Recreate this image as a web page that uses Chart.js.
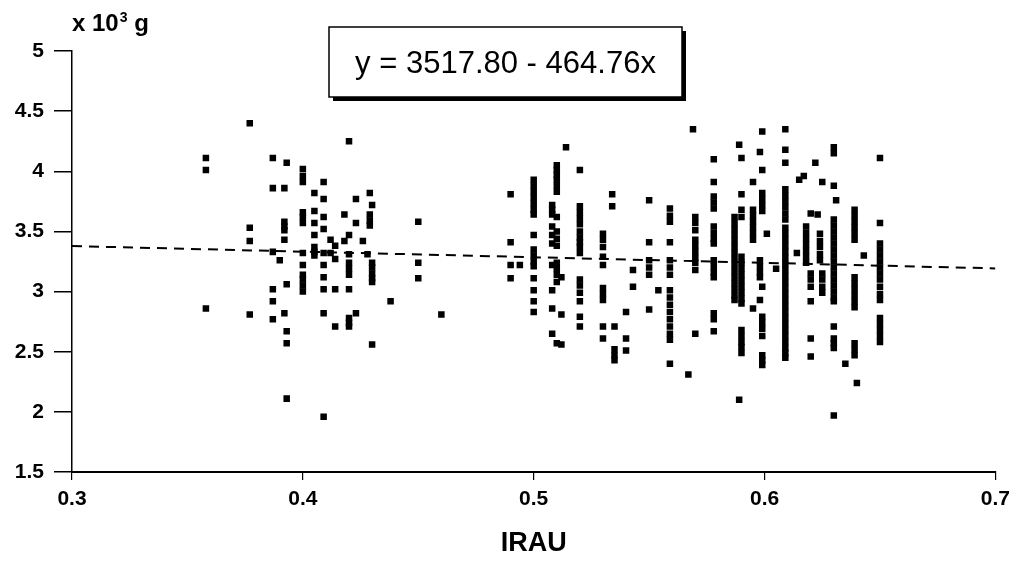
<!DOCTYPE html>
<html>
<head>
<meta charset="utf-8">
<script src="https://cdn.jsdelivr.net/npm/chart.js@4.4.1/dist/chart.umd.min.js"></script>
<style>
  html, body { margin: 0; padding: 0; background: #fff; }
  #wrap { position: relative; width: 1017px; height: 562px; }
</style>
</head>
<body>
<div id="wrap"><canvas id="c" width="1017" height="562"></canvas></div>
<script>
// ---------- DATA (IRAU vs birth weight, x 10^3 g) ----------
// Each column: one IRAU value, list of weights.
const group1Irau = [0.358, 0.377, 0.387, 0.390, 0.392, 0.393, 0.400, 0.405, 0.409, 0.412, 0.414, 0.418, 0.420, 0.423, 0.426, 0.428, 0.429, 0.430, 0.438, 0.450, 0.460];
const group1Weight = [
  [4.11, 4.01, 2.86],
  [4.40, 3.53, 3.42, 2.81],
  [4.11, 3.86, 3.33, 3.02, 2.92, 2.77],
  [3.26],
  [3.86, 3.58, 3.54, 3.51, 3.43, 2.82],
  [4.07, 3.06, 2.67, 2.57, 2.11],
  [4.02, 3.96, 3.91, 3.66, 3.62, 3.57, 3.32, 3.22, 3.14, 3.10, 3.05, 3.00],
  [3.82, 3.67, 3.57, 3.47, 3.37, 3.33, 3.30],
  [3.91, 3.77, 3.62, 3.52, 3.32, 3.22, 3.12, 3.02, 2.82, 1.96],
  [3.43, 3.32],
  [3.38, 3.27, 3.02, 2.71],
  [3.64, 3.42],
  [4.25, 3.47, 3.31, 3.24, 3.19, 3.14, 3.02, 2.78, 2.74, 2.71],
  [3.77, 3.57, 2.82],
  [3.42],
  [3.31],
  [3.82, 3.64, 3.59, 3.55],
  [3.72, 3.24, 3.20, 3.15, 3.11, 3.08, 2.56],
  [2.92],
  [3.58, 3.24, 3.11],
  [2.81]
];

const group2Irau = [0.490, 0.494, 0.500, 0.508, 0.510, 0.512, 0.514, 0.520, 0.530, 0.534, 0.535, 0.540, 0.543, 0.550, 0.554, 0.559, 0.567, 0.569, 0.570, 0.578];
const group2Weight = [
  [3.81, 3.41, 3.22, 3.11],
  [3.22],
  [3.93, 3.88, 3.83, 3.78, 3.73, 3.68, 3.64, 3.47, 3.35, 3.30, 3.25, 3.21, 3.11, 3.01, 2.92, 2.83],
  [3.72, 3.68, 3.64, 3.54, 3.47, 3.40, 3.22, 3.01, 2.86, 2.65],
  [4.05, 4.01, 3.97, 3.93, 3.88, 3.83, 3.62, 3.50, 3.44, 3.38, 3.24, 3.19, 3.14, 3.08, 2.57],
  [3.12, 2.81, 2.56],
  [4.20],
  [4.01, 3.71, 3.66, 3.61, 3.56, 3.50, 3.45, 3.41, 3.37, 3.32, 3.10, 3.05, 2.99, 2.92, 2.79, 2.71],
  [3.48, 3.43, 3.37, 3.29, 3.22, 3.03, 2.98, 2.93, 2.71, 2.61],
  [3.81, 3.71],
  [2.71, 2.52, 2.47, 2.43],
  [2.83, 2.61, 2.51],
  [3.18, 3.04],
  [3.76, 3.41, 3.26, 3.20, 3.14, 2.85],
  [3.01],
  [3.69, 3.63, 3.58, 3.41, 3.26, 3.20, 3.14, 3.01, 2.95, 2.89, 2.83, 2.77, 2.71, 2.65, 2.60, 2.40],
  [2.31],
  [4.35],
  [3.62, 3.57, 3.51, 3.43, 3.38, 3.33, 3.28, 3.24, 3.18, 2.65],
  [4.10, 3.91, 3.79, 3.74, 3.69, 3.54, 3.49, 3.44, 3.40, 3.26, 3.21, 3.16, 3.12, 2.82, 2.77, 2.67]
];

const group3Irau = [0.587, 0.589, 0.590, 0.595, 0.598, 0.599, 0.601, 0.605, 0.609, 0.614, 0.615, 0.617, 0.618, 0.620, 0.622, 0.623, 0.624, 0.625, 0.630, 0.631, 0.635, 0.639, 0.640, 0.643, 0.650];
const group3Weight = [
  [3.62, 3.57, 3.52, 3.47, 3.42, 3.37, 3.32, 3.27, 3.22, 3.17, 3.12, 3.07, 3.02, 2.97, 2.93],
  [4.22, 2.10],
  [4.11, 3.81, 3.68, 3.62, 3.29, 3.24, 3.19, 3.14, 3.09, 3.04, 2.99, 2.94, 2.90, 2.68, 2.63, 2.58, 2.54, 2.49],
  [3.91, 3.68, 3.63, 3.58, 3.53, 3.48, 3.43, 2.86],
  [4.16, 3.26, 3.21, 3.16, 3.12, 2.93],
  [4.33, 4.01, 3.82, 3.77, 3.72, 3.67, 3.04, 2.79, 2.74, 2.69, 2.63, 2.47, 2.43, 2.39],
  [3.48],
  [3.19],
  [4.35, 4.18, 4.07, 3.85, 3.80, 3.75, 3.70, 3.65, 3.60, 3.53, 3.48, 3.43, 3.38, 3.33, 3.28, 3.23, 3.18, 3.13, 3.08, 3.03, 2.98, 2.93, 2.88, 2.83, 2.78, 2.73, 2.68, 2.63, 2.58, 2.53, 2.49, 2.45],
  [3.32],
  [3.93],
  [3.96],
  [3.54, 3.49, 3.44, 3.39, 3.34, 3.29, 3.24],
  [3.65, 3.15, 3.10, 3.04, 2.92, 2.61, 2.46],
  [4.07],
  [3.64],
  [3.48, 3.42, 3.37, 3.31, 3.26],
  [3.91, 3.15, 3.10, 3.04, 2.99],
  [4.20, 4.15, 3.88, 3.60, 3.55, 3.50, 3.45, 3.40, 3.35, 3.30, 3.25, 3.20, 3.15, 3.10, 3.05, 3.00, 2.95, 2.92, 2.71, 2.61, 2.57, 2.53, 1.97],
  [3.76],
  [2.40],
  [3.68, 3.63, 3.58, 3.53, 3.48, 3.43, 3.12, 3.07, 3.02, 2.97, 2.92, 2.87, 2.57, 2.52, 2.47],
  [2.24],
  [3.30],
  [4.11, 3.57, 3.40, 3.35, 3.30, 3.25, 3.20, 3.15, 3.10, 3.04, 2.98, 2.93, 2.78, 2.73, 2.68, 2.63, 2.58]
];

// Regression (grams): y = 3517.80 - 464.76x
const regIntercept = 3517.80;
const regSlope = -464.76;
const regRange = [0.3, 0.7];

const xTickValues = [0.3, 0.4, 0.5, 0.6, 0.7];
const yTickValues = [1.5, 2, 2.5, 3, 3.5, 4, 4.5, 5];

const unitLabel = ['x 10', '3', ' g'];
const xAxisTitle = 'IRAU';
const equationText = 'y = ' + regIntercept.toFixed(2) + ' - ' + Math.abs(regSlope).toFixed(2) + 'x';

// ---------- build ----------
function toPoints(xs, ys) {
  const pts = [];
  xs.forEach((x, i) => ys[i].forEach(y => pts.push({ x: x, y: y })));
  return pts;
}
const scatterPoints = []
  .concat(toPoints(group1Irau, group1Weight))
  .concat(toPoints(group2Irau, group2Weight))
  .concat(toPoints(group3Irau, group3Weight));

const regLine = regRange.map(x => ({ x: x, y: (regIntercept + regSlope * x) / 1000 }));

const FONT = "'Liberation Sans', Arial, Helvetica, sans-serif";

const overlayPlugin = {
  id: 'overlay',
  afterDraw(chart) {
    const ctx = chart.ctx;
    const a = chart.chartArea;
    ctx.save();
    // unit label "x 10^3 g"
    ctx.fillStyle = '#000';
    ctx.textBaseline = 'alphabetic';
    ctx.textAlign = 'left';
    let ux = a.left;
    const uy = a.top - 20;
    ctx.font = 'bold 24px ' + FONT;
    ctx.fillText(unitLabel[0], ux, uy);
    ux += ctx.measureText(unitLabel[0]).width;
    ctx.font = 'bold 14px ' + FONT;
    ctx.fillText(unitLabel[1], ux + 1, uy - 9);
    ux += ctx.measureText(unitLabel[1]).width + 1;
    ctx.font = 'bold 24px ' + FONT;
    ctx.fillText(unitLabel[2], ux, uy);

    // equation box with shadow
    const bx = a.left + 257, by = a.top - 24, bw = 353, bh = 70;
    ctx.fillStyle = '#000';
    ctx.fillRect(bx + 4, by + 4, bw, bh);
    ctx.fillStyle = '#fff';
    ctx.fillRect(bx, by, bw, bh);
    ctx.strokeStyle = '#000';
    ctx.lineWidth = 1.5;
    ctx.strokeRect(bx, by, bw, bh);
    ctx.fillStyle = '#000';
    ctx.font = '31px ' + FONT;
    ctx.textAlign = 'center';
    ctx.textBaseline = 'middle';
    ctx.fillText(equationText, bx + bw / 2, by + bh / 2 + 2);
    ctx.restore();
  }
};

new Chart(document.getElementById('c'), {
  type: 'scatter',
  data: {
    datasets: [
      {
        type: 'line',
        label: 'regression',
        data: regLine,
        borderColor: '#000',
        borderWidth: 2,
        borderDash: [10, 7],
        pointRadius: 0,
        fill: false,
        order: 2
      },
      {
        label: 'data',
        data: scatterPoints,
        pointStyle: 'rect',
        pointRadius: 4.6,
        pointBorderWidth: 0,
        backgroundColor: '#000',
        borderColor: '#000',
        order: 1
      }
    ]
  },
  options: {
    responsive: false,
    animation: false,
    devicePixelRatio: 1,
    layout: { padding: { top: 51, right: 21, left: 0, bottom: 0 } },
    plugins: {
      legend: { display: false },
      tooltip: { enabled: false },
      title: { display: false }
    },
    scales: {
      x: {
        type: 'linear',
        min: 0.3, max: 0.7,
        afterBuildTicks: s => { s.ticks = xTickValues.map(v => ({ value: v })); },
        afterFit: s => { s.height = 90; },
        border: { display: true, color: '#000', width: 2 },
        grid: { drawOnChartArea: false, drawTicks: true, tickLength: 8, color: '#000', lineWidth: 1.2 },
        ticks: {
          color: '#000',
          padding: 7,
          font: { family: FONT, size: 21, weight: 'bold' },
          callback: v => Number(v).toFixed(1)
        },
        title: {
          display: true,
          text: xAxisTitle,
          color: '#000',
          font: { family: FONT, size: 27, weight: 'bold' },
          padding: { top: 0, bottom: 2 }
        }
      },
      y: {
        type: 'linear',
        min: 1.5, max: 5,
        afterBuildTicks: s => { s.ticks = yTickValues.map(v => ({ value: v })); },
        afterFit: s => { s.width = 72; },
        border: { display: true, color: '#000', width: 1.5 },
        grid: { drawOnChartArea: false, drawTicks: true, tickLength: 18, color: '#000', lineWidth: 1.5 },
        ticks: {
          color: '#000',
          padding: 10,
          font: { family: FONT, size: 21, weight: 'bold' },
          callback: v => String(Number(Number(v).toFixed(1)))
        }
      }
    }
  },
  plugins: [overlayPlugin]
});
</script>
</body>
</html>
